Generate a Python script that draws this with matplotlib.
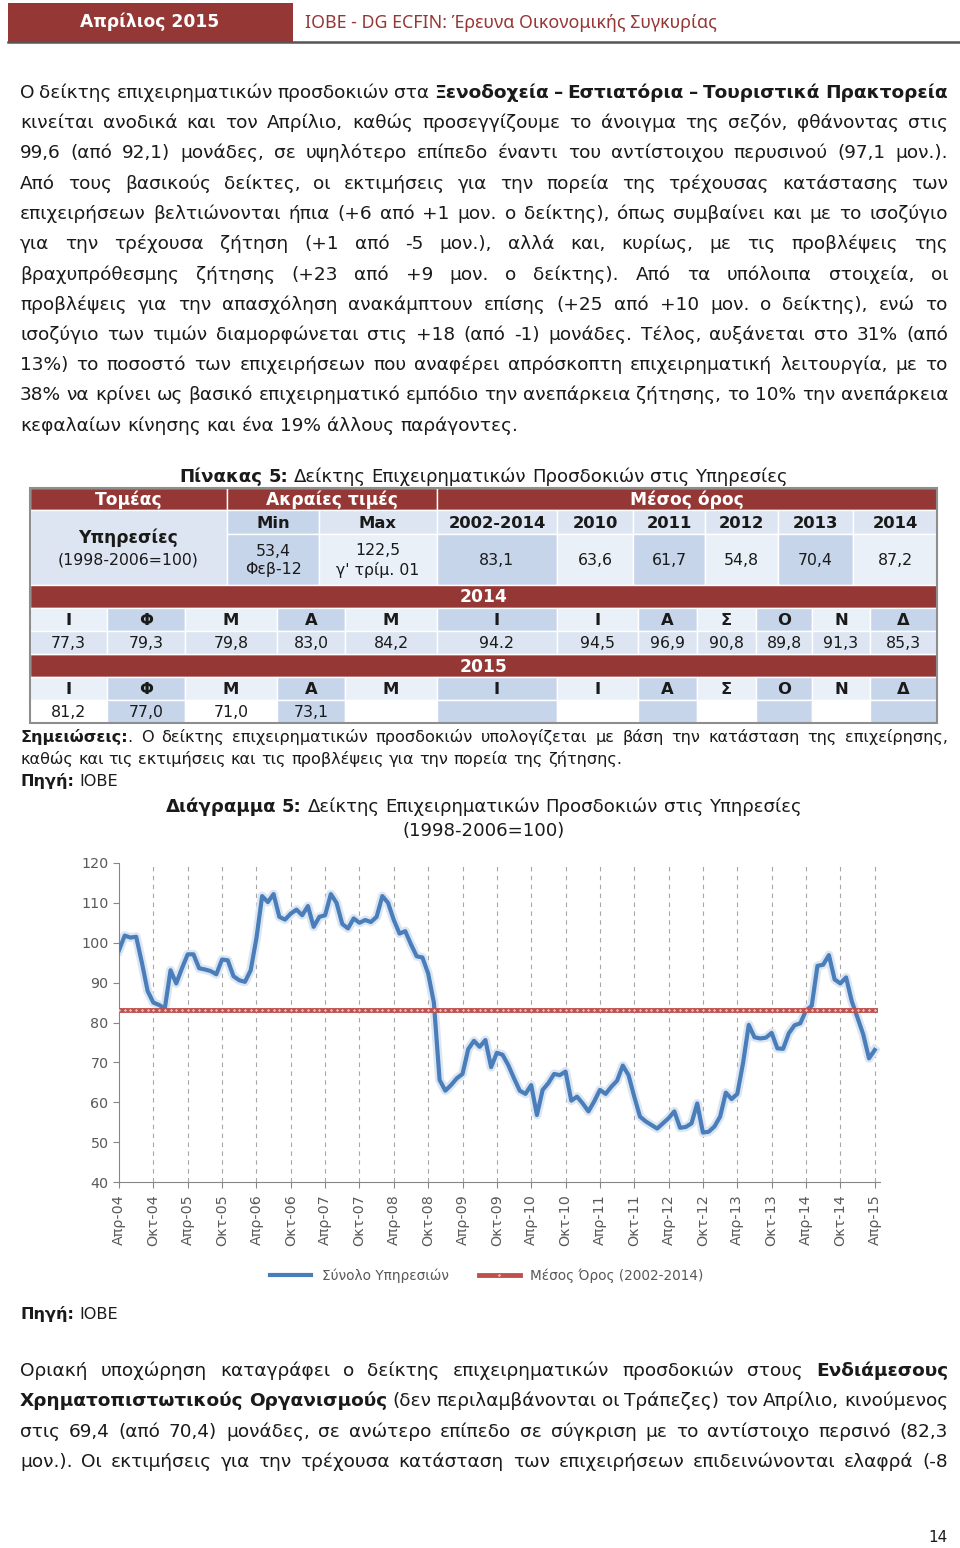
import numpy as np
import matplotlib
matplotlib.use("Agg")
import matplotlib.pyplot as plt
from matplotlib.patches import Rectangle

plt.rcParams['font.family'] = ['DejaVu Sans']

# ---------------- data ----------------
# Σύνολο Υπηρεσιών, monthly, Απρ-04 ... Απρ-15
services = [98.1, 101.8, 101.3, 101.5, 95.0, 87.9, 85.0, 84.4, 83.5, 93.1,
            89.8, 93.6, 97.1, 97.1, 93.6, 93.3, 92.9, 92.1, 95.8, 95.6,
            91.6, 90.6, 90.2, 93.1, 101.1, 111.7, 110.2, 112.2, 106.5, 105.8,
            107.3, 108.3, 106.9, 109.2, 104.0, 106.5, 106.9, 112.2, 110.0, 104.7,
            103.6, 106.1, 105.0, 105.7, 105.2, 106.5, 111.7, 110.0, 105.7, 102.3,
            102.9, 99.6, 96.6, 96.3, 92.3, 85.0, 65.6, 62.9, 64.3, 66.0,
            67.1, 73.3, 75.4, 73.9, 75.6, 68.8, 72.4, 71.9, 69.3, 66.0,
            62.9, 62.1, 64.3, 56.8, 63.1, 64.8, 67.1, 66.8, 67.7, 60.4,
            61.4, 59.7, 57.7, 60.2, 63.1, 62.1, 63.9, 65.4, 69.2, 66.8,
            61.4, 56.4, 55.2, 54.3, 53.4, 54.7, 56.0, 57.7, 53.6, 53.8,
            54.7, 59.7, 52.4, 52.6, 53.9, 56.4, 62.4, 60.8, 62.1, 69.8,
            79.4, 76.3, 76.0, 76.2, 77.4, 73.5, 73.4, 77.3, 79.3, 79.8,
            83.0, 84.2, 94.2, 94.5, 96.9, 90.8, 89.8, 91.3, 85.3, 81.2,
            77.0, 71.0, 73.1]
mean_0214 = 83.1
xlabels = ['Απρ-04', 'Οκτ-04', 'Απρ-05', 'Οκτ-05', 'Απρ-06', 'Οκτ-06',
           'Απρ-07', 'Οκτ-07', 'Απρ-08', 'Οκτ-08', 'Απρ-09', 'Οκτ-09',
           'Απρ-10', 'Οκτ-10', 'Απρ-11', 'Οκτ-11', 'Απρ-12', 'Οκτ-12',
           'Απρ-13', 'Οκτ-13', 'Απρ-14', 'Οκτ-14', 'Απρ-15']
yticks = [40, 50, 60, 70, 80, 90, 100, 110, 120]

# table
ext_head = ['Min', 'Max']
ext_vals = ['53,4\nΦεβ-12', "122,5\nγ' τρίμ. 01"]
avg_head = ['2002-2014', '2010', '2011', '2012', '2013', '2014']
avg_vals = ['83,1', '63,6', '61,7', '54,8', '70,4', '87,2']
months = ['Ι', 'Φ', 'Μ', 'Α', 'Μ', 'Ι', 'Ι', 'Α', 'Σ', 'Ο', 'Ν', 'Δ']
vals14 = ['77,3', '79,3', '79,8', '83,0', '84,2', '94.2', '94,5', '96,9',
          '90,8', '89,8', '91,3', '85,3']
vals15 = ['81,2', '77,0', '71,0', '73,1']

para1 = [
    "Ο δείκτης επιχειρηματικών προσδοκιών στα **Ξενοδοχεία – Εστιατόρια – Τουριστικά Πρακτορεία**",
    "κινείται ανοδικά και τον Απρίλιο, καθώς προσεγγίζουμε το άνοιγμα της σεζόν, φθάνοντας στις",
    "99,6 (από 92,1) μονάδες, σε υψηλότερο επίπεδο έναντι του αντίστοιχου περυσινού (97,1 μον.).",
    "Από τους βασικούς δείκτες, οι εκτιμήσεις για την πορεία της τρέχουσας κατάστασης των",
    "επιχειρήσεων βελτιώνονται ήπια (+6 από +1 μον. ο δείκτης), όπως συμβαίνει και με το ισοζύγιο",
    "για την τρέχουσα ζήτηση (+1 από -5 μον.), αλλά και, κυρίως, με τις προβλέψεις της",
    "βραχυπρόθεσμης ζήτησης (+23 από +9 μον. ο δείκτης). Από τα υπόλοιπα στοιχεία, οι",
    "προβλέψεις για την απασχόληση ανακάμπτουν επίσης (+25 από +10 μον. ο δείκτης), ενώ το",
    "ισοζύγιο των τιμών διαμορφώνεται στις +18 (από -1) μονάδες. Τέλος, αυξάνεται στο 31% (από",
    "13%) το ποσοστό των επιχειρήσεων που αναφέρει απρόσκοπτη επιχειρηματική λειτουργία, με το",
    "38% να κρίνει ως βασικό επιχειρηματικό εμπόδιο την ανεπάρκεια ζήτησης, το 10% την ανεπάρκεια",
    "κεφαλαίων κίνησης και ένα 19% άλλους παράγοντες.",
]
para2 = [
    "Οριακή υποχώρηση καταγράφει ο δείκτης επιχειρηματικών προσδοκιών στους **Ενδιάμεσους**",
    "**Χρηματοπιστωτικούς Οργανισμούς** (δεν περιλαμβάνονται οι Τράπεζες) τον Απρίλιο, κινούμενος",
    "στις 69,4 (από 70,4) μονάδες, σε ανώτερο επίπεδο σε σύγκριση με το αντίστοιχο περσινό (82,3",
    "μον.). Οι εκτιμήσεις για την τρέχουσα κατάσταση των επιχειρήσεων επιδεινώνονται ελαφρά (-8",
]

INK = '#1a1a1a'
RED = '#953735'
BLUE_D = '#C6D5EA'
BLUE_L = '#DCE5F1'
BLUE_W = '#EAF0F7'
BODY = 13.3
NOTE = 11.6

fig = plt.figure(figsize=(9.6, 15.48), dpi=100)
page = fig.add_axes([0, 0, 1, 1])
page.set_xlim(0, 960)
page.set_ylim(1548, 0)
page.axis('off')
rend = fig.canvas.get_renderer()


def width(t):
    return t.get_window_extent(rend).width


def rich(y, s, x0=20, x1=948, size=12, align='justify', color=INK):
    # words made of (piece, bold) parts; "**" toggles bold
    words, cur = [], []
    for k, seg in enumerate(s.split('**')):
        for j, part in enumerate(seg.split(' ')):
            if j > 0 and cur:
                words.append(cur)
                cur = []
            if part:
                cur.append((part, k % 2 == 1))
    if cur:
        words.append(cur)
    arts = []
    for w in words:
        row = []
        for part, b in w:
            t = page.text(0, y, part, fontsize=size, color=color, va='baseline',
                          fontweight='bold' if b else 'normal')
            row.append((t, width(t)))
        arts.append(row)
    ww = [sum(a[1] for a in row) for row in arts]
    p1 = page.text(0, 0, 'x x', fontsize=size)
    p2 = page.text(0, 0, 'xx', fontsize=size)
    sp = width(p1) - width(p2)
    p1.remove()
    p2.remove()
    if align == 'justify' and len(arts) > 1:
        gap = max((x1 - x0 - sum(ww)) / (len(arts) - 1), sp * 0.6)
        x = x0
    else:
        gap = sp
        total = sum(ww) + sp * (len(arts) - 1)
        x = x0 if align == 'left' else (x0 + x1) / 2 - total / 2
    for row, w in zip(arts, ww):
        xx = x
        for t, tw in row:
            t.set_x(xx)
            xx += tw
        x += w + gap


# ---------------- header ----------------
page.plot([8, 960], [41.5, 41.5], color='#555555', lw=1.8)
page.add_patch(Rectangle((8, 3), 285, 39, facecolor=RED, edgecolor='none'))
page.text(150, 22, 'Απρίλιος 2015', color='white', fontsize=12.3, fontweight='bold',
          ha='center', va='center')
page.text(305, 23, 'ΙΟΒΕ - DG ECFIN: Έρευνα Οικονομικής Συγκυρίας', color=RED,
          fontsize=12.8, va='center', family='Noto Sans')

# ---------------- paragraph 1 ----------------
for i, line in enumerate(para1):
    rich(98 + i * 30.25, line, size=BODY,
         align='left' if i == len(para1) - 1 else 'justify')

# ---------------- table ----------------
rich(482, "**Πίνακας 5:** Δείκτης Επιχειρηματικών Προσδοκιών στις Υπηρεσίες",
     x0=30, x1=937, size=13.1, align='center')

R = [488, 510, 534, 585, 608, 631, 654, 677, 700, 723]


def cell(x0, x1, y0, y1, fc, txt='', color=INK, bold=False, size=11):
    page.add_patch(Rectangle((x0, y0), x1 - x0, y1 - y0, facecolor=fc,
                             edgecolor='white', lw=1))
    if txt:
        page.text((x0 + x1) / 2, (y0 + y1) / 2 + 1, txt, ha='center', va='center',
                  color=color, fontsize=size, fontweight='bold' if bold else 'normal',
                  linespacing=1.25)


cell(30, 227, R[0], R[1], RED, 'Τομέας', 'white', True, 12.3)
cell(227, 437, R[0], R[1], RED, 'Ακραίες τιμές', 'white', True, 12.3)
cell(437, 937, R[0], R[1], RED, 'Μέσος όρος', 'white', True, 12.3)

cell(30, 227, R[1], R[3], BLUE_L)
page.text(128, 538, 'Υπηρεσίες', ha='center', va='center', fontsize=12.3,
          fontweight='bold', color=INK)
page.text(128, 560, '(1998-2006=100)', ha='center', va='center', fontsize=11.3, color=INK)

ext_x = [227, 319, 437]
for i in range(2):
    cell(ext_x[i], ext_x[i + 1], R[1], R[2], BLUE_D if i == 0 else BLUE_L,
         ext_head[i], bold=True, size=11.8)
    cell(ext_x[i], ext_x[i + 1], R[2], R[3], BLUE_D if i == 0 else BLUE_W,
         ext_vals[i], size=11.3)

avg_x = [437, 557, 633, 705, 778, 853, 937]
for i in range(len(avg_head)):
    cell(avg_x[i], avg_x[i + 1], R[1], R[2], BLUE_L, avg_head[i], bold=True, size=11.8)
    cell(avg_x[i], avg_x[i + 1], R[2], R[3], BLUE_D if i % 2 == 0 else BLUE_W,
         avg_vals[i], size=11.3)

mx = [30, 107, 185, 277, 345, 437, 557, 638, 697, 756, 812, 870, 937]
cell(30, 937, R[3], R[4], RED, '2014', 'white', True, 12.3)
cell(30, 937, R[6], R[7], RED, '2015', 'white', True, 12.3)
for i in range(12):
    fc = BLUE_W if i % 2 == 0 else BLUE_D
    cell(mx[i], mx[i + 1], R[4], R[5], fc, months[i], bold=True, size=11.8)
    cell(mx[i], mx[i + 1], R[5], R[6], BLUE_L, vals14[i], size=11.3)
    cell(mx[i], mx[i + 1], R[7], R[8], fc, months[i], bold=True, size=11.8)
    cell(mx[i], mx[i + 1], R[8], R[9], 'white' if i % 2 == 0 else BLUE_D,
         vals15[i] if i < len(vals15) else '', size=11.3)
page.add_patch(Rectangle((30, R[0]), 907, R[9] - R[0], facecolor='none',
                         edgecolor='#8E8E8E', lw=1.5))

# ---------------- notes ----------------
rich(742, "**Σημειώσεις:**. Ο δείκτης επιχειρηματικών προσδοκιών υπολογίζεται με βάση την κατάσταση της επιχείρησης,",
     size=NOTE)
rich(764, "καθώς και τις εκτιμήσεις και τις προβλέψεις για την πορεία της ζήτησης.",
     size=NOTE, align='left')
rich(786, "**Πηγή:** ΙΟΒΕ", size=NOTE, align='left')

rich(812, "**Διάγραμμα 5:** Δείκτης Επιχειρηματικών Προσδοκιών στις Υπηρεσίες",
     x0=30, x1=937, size=13.1, align='center')
rich(836, "(1998-2006=100)", x0=30, x1=937, size=13.1, align='center')

# ---------------- chart ----------------
ax = fig.add_axes([119 / 960, 1 - 1182 / 1548, 761 / 960, 319 / 1548])
x = np.arange(len(services))
for xv in np.arange(6, len(services), 6):
    ax.axvline(xv, color='#A6A6A6', lw=0.8, ls=(0, (4, 4)), zorder=0)
ax.plot(x, services, color='#DCE6F2', lw=6.5, zorder=2)
ax.plot(x, services, color='#4A7EBB', lw=3, zorder=3, label='Σύνολο Υπηρεσιών')
ax.plot(x, [mean_0214] * len(services), color='#C0504D', lw=3.5, marker='D', ms=2.2,
        mfc='#E6B9B8', mec='#C0504D', mew=0.5, zorder=4,
        label='Μέσος Όρος (2002-2014)')
ax.set_xlim(0, 761 / 5.725)
ax.set_ylim(40, 120)
ax.set_yticks(yticks)
ax.set_xticks(np.arange(0, len(services), 6))
ax.set_xticklabels(xlabels, rotation=90)
for s in ['top', 'right']:
    ax.spines[s].set_visible(False)
for s in ['left', 'bottom']:
    ax.spines[s].set_color('#868686')
ax.tick_params(axis='both', colors='#868686', length=4, labelcolor='#595959',
               labelsize=10.3)
ax.tick_params(axis='x', pad=5)
ax.legend(loc='center', bbox_to_anchor=(487 / 960, 1 - 1276 / 1548),
          bbox_transform=fig.transFigure, ncol=2, frameon=False, fontsize=9.8,
          handlelength=3, columnspacing=2.2, labelcolor='#595959')

rich(1319, "**Πηγή:** ΙΟΒΕ", size=NOTE, align='left')

# ---------------- paragraph 2 ----------------
for i, line in enumerate(para2):
    rich(1376 + i * 30.3, line, size=BODY)

page.text(938, 1537, '14', fontsize=11, ha='center', va='center', color=INK)

fig.savefig('out.png', dpi=100)
